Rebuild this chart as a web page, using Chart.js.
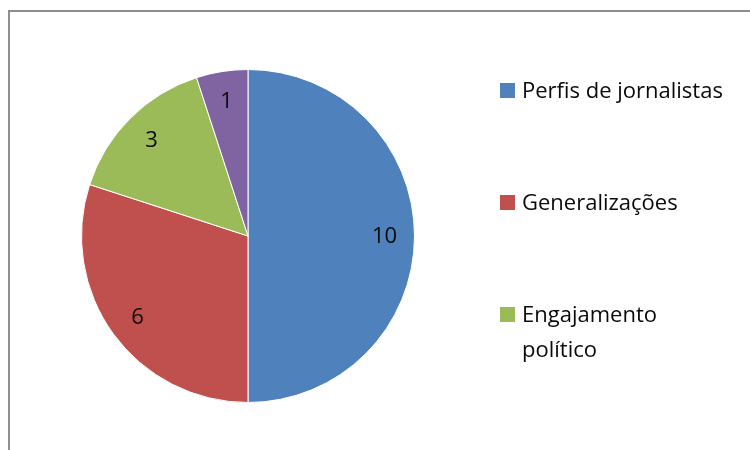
<!DOCTYPE html>
<html>
<head>
<meta charset="utf-8">
<script src="https://cdn.jsdelivr.net/npm/chart.js@4/dist/chart.umd.min.js"></script>
<style>
  html, body { margin: 0; padding: 0; width: 750px; height: 450px; overflow: hidden; background: #fff; }
  #frame { position: absolute; left: 8px; top: 10px; width: 800px; height: 520px; border: 2px solid #8f8f8f; box-sizing: border-box; }
  #pie { position: absolute; left: 0; top: 0; }
</style>
</head>
<body>
<div id="frame"></div>
<canvas id="pie" width="750" height="500"></canvas>
<script>
// Categories (multi-line labels as arrays) and counts per category
const categories = ['Perfis de jornalistas', 'Generalizações', ['Engajamento', 'político'], 'Outros'];
const counts = [10, 6, 3, 1];
const sliceColors = ['#4F81BD', '#C0504D', '#9BBB59', '#8064A2'];

const FONT = '"Open Sans", "Noto Sans", sans-serif';

// Value labels placed inside each slice
const sliceLabels = {
  id: 'sliceLabels',
  afterDatasetsDraw(chart) {
    const ctx = chart.ctx;
    const meta = chart.getDatasetMeta(0);
    ctx.save();
    ctx.font = '22px ' + FONT;
    ctx.fillStyle = '#0a0a0a';
    ctx.textAlign = 'center';
    ctx.textBaseline = 'middle';
    meta.data.forEach((arc, i) => {
      const p = arc.getProps(['x', 'y', 'startAngle', 'endAngle', 'outerRadius'], true);
      const mid = (p.startAngle + p.endAngle) / 2;
      const r = p.outerRadius * 0.82;
      ctx.fillText(String(counts[i]), p.x + Math.cos(mid) * r, p.y + Math.sin(mid) * r + 1);
    });
    ctx.restore();
  }
};

// Legend to the right of the pie, one entry per category
const sideLegend = {
  id: 'sideLegend',
  afterDraw(chart) {
    const ctx = chart.ctx;
    const boxX = 500, box = 15, textX = 522, lineH = 35, gap = 77;
    let top = 83;
    ctx.save();
    ctx.font = '22px ' + FONT;
    ctx.textBaseline = 'alphabetic';
    ctx.textAlign = 'left';
    categories.forEach((label, i) => {
      const lines = Array.isArray(label) ? label : [label];
      ctx.fillStyle = sliceColors[i];
      ctx.fillRect(boxX, top, box, box);
      ctx.fillStyle = '#0a0a0a';
      lines.forEach((ln, j) => ctx.fillText(ln, textX, top + box + j * lineH));
      top += lines.length * lineH + gap;
    });
    ctx.restore();
  }
};

new Chart(document.getElementById('pie'), {
  type: 'pie',
  data: {
    labels: categories,
    datasets: [{
      data: counts,
      backgroundColor: sliceColors,
      borderColor: '#ffffff',
      borderWidth: 1
    }]
  },
  options: {
    responsive: false,
    animation: false,
    layout: { padding: { left: 81, right: 335, top: 69, bottom: 97 } },
    plugins: {
      legend: { display: false },
      tooltip: { enabled: false }
    }
  },
  plugins: [sliceLabels, sideLegend]
});
</script>
</body>
</html>
